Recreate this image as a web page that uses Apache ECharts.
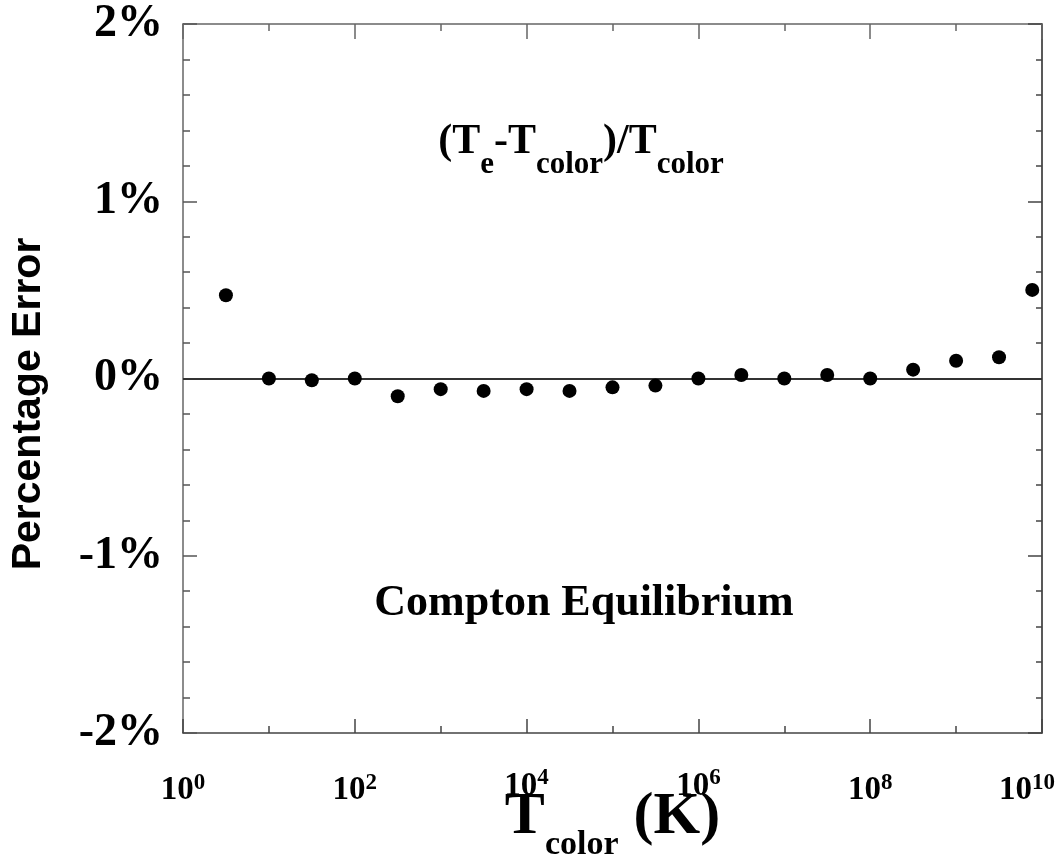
<!DOCTYPE html>
<html>
<head>
<meta charset="utf-8">
<script src="https://cdn.jsdelivr.net/npm/echarts@6/dist/echarts.min.js"></script>
<style>
  html, body { margin: 0; padding: 0; background: #ffffff; }
  #chart { width: 1058px; height: 862px; }
</style>
</head>
<body>
<div id="chart"></div>
<script>
// Colour temperature of the radiation field (K), sampled every half decade
const tempK = [3.16, 10, 31.6, 100, 316, 1000, 3160, 1e4, 3.16e4, 1e5,
               3.16e5, 1e6, 3.16e6, 1e7, 3.16e7, 1e8, 3.16e8, 1e9, 3.16e9, 7.7e9];
// (Te - Tcolor) / Tcolor, in percent
const errorPct = [0.47, 0.00, -0.01, 0.00, -0.10, -0.06, -0.07, -0.06, -0.07, -0.05,
                  -0.04, 0.00, 0.02, 0.00, 0.02, 0.00, 0.05, 0.10, 0.12, 0.50];
// Decade exponents that carry a label on the temperature axis
const labelledExponents = [0, 2, 4, 6, 8, 10];
// Labels sitting right above the axis title are lifted a little
const raisedExponents = [4, 6];
// Percentage range of the error axis
const errorRange = [-2, 2];

const SERIF = "'Liberation Serif', 'Times New Roman', serif";
const SANS = "'Liberation Sans', Arial, sans-serif";

// points placed on an axis of log10(T)
const points = tempK.map((t, i) => [Math.log10(t), errorPct[i]]);

const chart = echarts.init(document.getElementById('chart'), null, { renderer: 'canvas' });

const axisLineStyle = (color) => ({ show: true, onZero: false, lineStyle: { color: color, width: 1.5 } });

function decadeLabel(v) {
  if (labelledExponents.indexOf(v) < 0) return '';
  if (raisedExponents.indexOf(v) >= 0) return '{hb|10}{he|' + v + '}';
  if (v === labelledExponents[labelledExponents.length - 1]) return '{b|10}{last|' + v + '}';
  return '{b|10}{e|' + v + '}';
}

const baseTxt = { fontFamily: SERIF, fontWeight: 'bold', fontSize: 33, lineHeight: 36, color: '#000' };
const supTxt = { fontFamily: SERIF, fontWeight: 'bold', fontSize: 23, lineHeight: 24, color: '#000' };

const option = {
  animation: false,
  backgroundColor: '#ffffff',
  grid: { left: 183, right: 16, top: 24, bottom: 129, containLabel: false, outerBoundsMode: 'none' },
  xAxis: [
    {
      type: 'value',
      position: 'bottom',
      min: labelledExponents[0],
      max: labelledExponents[labelledExponents.length - 1],
      interval: 2,
      axisLine: axisLineStyle('#444'),
      axisTick: { show: true, inside: true, length: 14, lineStyle: { color: '#444', width: 1.5 } },
      minorTick: { show: true, splitNumber: 2, length: 7, lineStyle: { color: '#444', width: 1.5 } },
      splitLine: { show: false },
      minorSplitLine: { show: false },
      axisLabel: {
        margin: 35,
        formatter: decadeLabel,
        rich: {
          b: Object.assign({}, baseTxt, { padding: [9, 0, 0, 0] }),
          e: Object.assign({}, supTxt, { padding: [9, 0, 15, 0] }),
          last: Object.assign({}, supTxt, { padding: [9, 30, 15, 0] }),
          hb: Object.assign({}, baseTxt),
          he: Object.assign({}, supTxt, { padding: [0, 0, 15, 0] })
        }
      },
      name: '{t|T}{s|color}{t| (K)}',
      nameLocation: 'middle',
      nameGap: 53,
      nameMoveOverlap: false,
      nameTextStyle: {
        rich: {
          t: { fontFamily: SERIF, fontWeight: 'bold', fontSize: 60, lineHeight: 62, color: '#000' },
          s: { fontFamily: SERIF, fontWeight: 'bold', fontSize: 34, lineHeight: 34, padding: [56, 0, 0, 0], color: '#000' }
        }
      }
    },
    {
      type: 'value',
      position: 'top',
      min: labelledExponents[0],
      max: labelledExponents[labelledExponents.length - 1],
      interval: 2,
      axisLine: axisLineStyle('#666'),
      axisTick: { show: true, inside: true, length: 15, lineStyle: { color: '#666', width: 1.5 } },
      minorTick: { show: true, splitNumber: 2, length: 7, lineStyle: { color: '#666', width: 1.5 } },
      splitLine: { show: false },
      axisLabel: { show: false }
    }
  ],
  yAxis: [
    {
      type: 'value',
      position: 'left',
      min: errorRange[0],
      max: errorRange[1],
      interval: 1,
      axisLine: axisLineStyle('#666'),
      axisTick: { show: true, inside: true, length: 14, lineStyle: { color: '#555', width: 1.5 } },
      minorTick: { show: true, splitNumber: 5, length: 7, lineStyle: { color: '#555', width: 1.5 } },
      splitLine: { show: false },
      minorSplitLine: { show: false },
      axisLabel: {
        margin: 20,
        formatter: (v) => v + '%',
        fontFamily: SERIF,
        fontWeight: 'bold',
        fontSize: 46,
        color: '#000'
      }
    },
    {
      type: 'value',
      position: 'right',
      min: errorRange[0],
      max: errorRange[1],
      interval: 1,
      axisLine: axisLineStyle('#222'),
      axisTick: { show: true, inside: true, length: 14, lineStyle: { color: '#444', width: 1.5 } },
      minorTick: { show: true, splitNumber: 5, length: 6, lineStyle: { color: '#444', width: 1.5 } },
      splitLine: { show: false },
      axisLabel: { show: false }
    }
  ],
  series: [
    {
      type: 'scatter',
      xAxisIndex: 0,
      yAxisIndex: 0,
      data: points,
      symbol: 'circle',
      symbolSize: 14,
      itemStyle: { color: '#000', opacity: 1 },
      emphasis: { disabled: true },
      markLine: {
        silent: true,
        symbol: 'none',
        label: { show: false },
        lineStyle: { color: '#333', width: 2, type: 'solid' },
        data: [{ yAxis: 0 }]
      },
      z: 5
    }
  ],
  graphic: [
    {
      type: 'text',
      x: 29,
      y: 404,
      rotation: Math.PI / 2,
      style: {
        text: 'Percentage Error',
        fontFamily: SANS,
        fontWeight: 'bold',
        fontSize: 41,
        fill: '#000',
        align: 'center',
        verticalAlign: 'middle'
      }
    },
    {
      type: 'text',
      x: 581,
      y: 142,
      style: {
        text: '{m|(T}{s|e}{m|-T}{s|color}{m|)/T}{s|color}',
        align: 'center',
        verticalAlign: 'middle',
        rich: {
          m: { fontFamily: SERIF, fontWeight: 'bold', fontSize: 42, lineHeight: 46, fill: '#000' },
          s: { fontFamily: SERIF, fontWeight: 'bold', fontSize: 31, lineHeight: 31, padding: [46, 0, 0, 0], fill: '#000' }
        }
      }
    },
    {
      type: 'text',
      x: 584,
      y: 604,
      style: {
        text: 'Compton Equilibrium',
        fontFamily: SERIF,
        fontWeight: 'bold',
        fontSize: 44,
        fill: '#000',
        align: 'center',
        verticalAlign: 'middle'
      }
    }
  ]
};

chart.setOption(option);
</script>
</body>
</html>
